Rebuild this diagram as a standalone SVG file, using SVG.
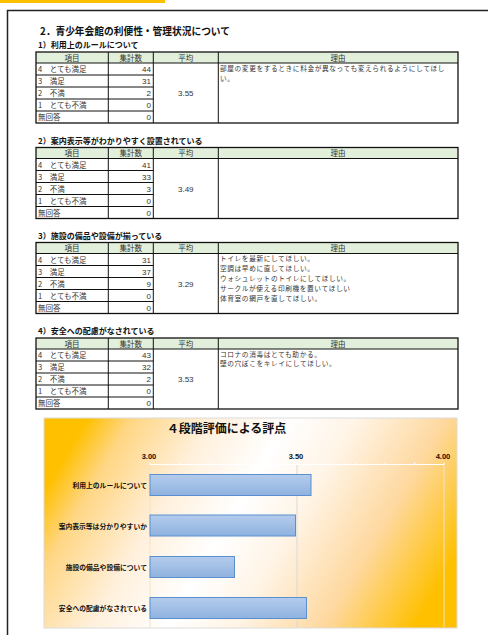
<svg xmlns="http://www.w3.org/2000/svg" width="488" height="635" viewBox="0 0 488 635">
<style>
text{font-family:"Noto Sans CJK JP","Noto Sans",sans-serif;fill:#333}
.ttl{font-size:10.5px;font-weight:bold;fill:#111}
.sub{font-size:8px;font-weight:bold;fill:#111}
.hd{font-size:7.5px;text-anchor:middle}
.c{font-size:7.5px}
.n{font-size:8px;text-anchor:end;font-family:"Liberation Sans",sans-serif}
.av{font-size:8px;text-anchor:middle;font-family:"Liberation Sans",sans-serif}
.rs{font-size:6.7px;letter-spacing:0.6px}
.hdbg{fill:#e2efda}
.grid{stroke:#111;stroke-width:1;fill:none}
.outer{stroke:#111;stroke-width:1.3;fill:none}
.ctitle{font-size:12px;font-weight:bold;fill:#111;text-anchor:middle}
.ax{font-size:7.5px;font-weight:bold;fill:#111;text-anchor:middle;font-family:"Liberation Sans",sans-serif}
.cat{font-size:6.8px;font-weight:bold;fill:#111;text-anchor:end}
.bar{fill:url(#barg);stroke:#5b8fd0;stroke-width:1}
</style>
<defs>
<linearGradient id="bg" x1="0" y1="0.35" x2="1" y2="0.65">
<stop offset="0" stop-color="#ffc000"/>
<stop offset="0.1" stop-color="#ffd684"/>
<stop offset="0.28" stop-color="#fff0dc"/>
<stop offset="0.45" stop-color="#ffffff"/>
<stop offset="0.6" stop-color="#fff4e6"/>
<stop offset="0.8" stop-color="#fed89e"/>
<stop offset="1" stop-color="#ffc000"/>
</linearGradient>
<linearGradient id="barg" x1="0" y1="0" x2="0" y2="1">
<stop offset="0" stop-color="#b4ccec"/>
<stop offset="1" stop-color="#8fb2df"/>
</linearGradient>
<g id="tblgrid">
<rect class="hdbg" x="36" y="0" width="422" height="11"/>
<path class="grid" d="M36 11H458M36 23H153.3M36 35H153.3M36 47H153.3M36 59H153.3M108.3 0V71M153.3 0V71M218.3 0V71"/>
<rect class="outer" x="36" y="0" width="422" height="71"/>
<text class="hd" x="72" y="8.5">項目</text>
<text class="hd" x="130.8" y="8.5">集計数</text>
<text class="hd" x="185.8" y="8.5">平均</text>
<text class="hd" x="338" y="8.5">理由</text>
<text class="c" x="38" y="20">4　とても満足</text>
<text class="c" x="38" y="32">3　満足</text>
<text class="c" x="38" y="44">2　不満</text>
<text class="c" x="38" y="56">1　とても不満</text>
<text class="c" x="38" y="68">無回答</text>
</g>
</defs>

<rect x="0" y="0" width="165" height="3" fill="#ffc000"/>
<path d="M7.5 635V10.5H488" fill="none" stroke="#222" stroke-width="1.5"/>

<text class="ttl" x="40" y="34.5" textLength="190" lengthAdjust="spacingAndGlyphs">2．青少年会館の利便性・管理状況について</text>

<g id="table1">
<text class="sub" x="38" y="48">1）利用上のルールについて</text>
<g transform="translate(0,52)">
<use href="#tblgrid"/>
<text class="n" x="151" y="20">44</text>
<text class="n" x="151" y="32">31</text>
<text class="n" x="151" y="44">2</text>
<text class="n" x="151" y="56">0</text>
<text class="n" x="151" y="68">0</text>
<text class="av" x="185.8" y="44">3.55</text>
<text class="rs" x="220" y="19">部屋の変更をするときに料金が異なっても変えられるようにしてほし</text>
<text class="rs" x="220" y="28.9">い。</text>
</g>
</g>

<g id="table2">
<text class="sub" x="38" y="143.5">2）案内表示等がわかりやすく設置されている</text>
<g transform="translate(0,147.5)">
<use href="#tblgrid"/>
<text class="n" x="151" y="20">41</text>
<text class="n" x="151" y="32">33</text>
<text class="n" x="151" y="44">3</text>
<text class="n" x="151" y="56">0</text>
<text class="n" x="151" y="68">0</text>
<text class="av" x="185.8" y="44">3.49</text>
</g>
</g>

<g id="table3">
<text class="sub" x="38" y="238.5">3）施設の備品や設備が揃っている</text>
<g transform="translate(0,242.5)">
<use href="#tblgrid"/>
<text class="n" x="151" y="20">31</text>
<text class="n" x="151" y="32">37</text>
<text class="n" x="151" y="44">9</text>
<text class="n" x="151" y="56">0</text>
<text class="n" x="151" y="68">0</text>
<text class="av" x="185.8" y="44">3.29</text>
<text class="rs" x="220" y="18.5">トイレを最新にしてほしい。</text>
<text class="rs" x="220" y="28.4">空調は早めに直してほしい。</text>
<text class="rs" x="220" y="38.3">ウォシュレットのトイレにしてほしい。</text>
<text class="rs" x="220" y="48.2">サークルが使える印刷機を置いてほしい</text>
<text class="rs" x="220" y="58.1">体育室の網戸を直してほしい。</text>
</g>
</g>

<g id="table4">
<text class="sub" x="38" y="334">4）安全への配慮がなされている</text>
<g transform="translate(0,338)">
<use href="#tblgrid"/>
<text class="n" x="151" y="20">43</text>
<text class="n" x="151" y="32">32</text>
<text class="n" x="151" y="44">2</text>
<text class="n" x="151" y="56">0</text>
<text class="n" x="151" y="68">0</text>
<text class="av" x="185.8" y="44">3.53</text>
<text class="rs" x="220" y="18.5">コロナの消毒はとても助かる。</text>
<text class="rs" x="220" y="28.4">壁の穴ぼこをキレイにしてほしい。</text>
</g>
</g>

<g id="chart">
<rect x="44" y="418" width="413" height="210" fill="url(#bg)" stroke="#dcdcdc" stroke-width="1"/>
<text class="ctitle" x="226.5" y="433">４段階評価による評点</text>
<path d="M150 464V627M444 464V627" stroke="#f3e3c8" stroke-width="1" fill="none"/>
<path d="M297 464V627" stroke="#d9d9d9" stroke-width="1" fill="none"/>
<path d="M150 464.5H444M150 464.5v-2M179.4 464.5v-2M208.8 464.5v-2M238.2 464.5v-2M267.6 464.5v-2M297 464.5v-2M326.4 464.5v-2M355.8 464.5v-2M385.2 464.5v-2M414.6 464.5v-2M444 464.5v-2" stroke="#ffffff" stroke-width="1" fill="none"/>
<text class="ax" x="149" y="459">3.00</text>
<text class="ax" x="296" y="459">3.50</text>
<text class="ax" x="443" y="459">4.00</text>
<g id="bar1"><rect class="bar" x="150" y="474.5" width="161" height="21"/><text class="cat" x="147" y="488">利用上のルールについて</text></g>
<g id="bar2"><rect class="bar" x="150" y="515" width="145.5" height="21"/><text class="cat" x="147" y="528.5">案内表示等は分かりやすいか</text></g>
<g id="bar3"><rect class="bar" x="150" y="556.5" width="84.5" height="21"/><text class="cat" x="147" y="570">施設の備品や設備について</text></g>
<g id="bar4"><rect class="bar" x="150" y="597.5" width="156.5" height="21"/><text class="cat" x="147" y="611">安全への配慮がなされている</text></g>
</g>
</svg>
